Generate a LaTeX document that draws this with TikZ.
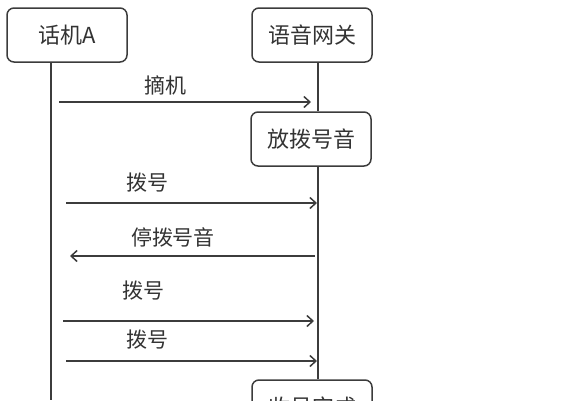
\documentclass[tikz,border=0pt]{standalone}
\usepackage{fontspec}
\setmainfont{Noto Sans CJK SC}
\usetikzlibrary{arrows.meta}
\definecolor{linegray}{HTML}{3C3C3C}
\definecolor{textgray}{HTML}{333333}

\begin{document}
\begin{tikzpicture}[x=1pt,y=-1pt,
  box/.style={draw=linegray,line width=1.5pt,rounded corners=7pt,
    minimum width=120pt,minimum height=54pt,
    font=\fontsize{22}{24}\selectfont,text=textgray},
  life/.style={draw=linegray,line width=1.2pt},
  msg/.style={draw=linegray,line width=1.6pt,
    -{Straight Barb[length=6pt,width=11pt,line width=1.5pt]}},
  lbl/.style={font=\fontsize{21}{23}\selectfont,text=textgray}]
\useasboundingbox (0,0) rectangle (574,400);

%==================== 头部 ====================
\node[box] (phone) at (67,35) {话机A};
\node[box] (gw) at (312,35) {语音网关};
\node[box] (dial) at (311,139) {放拨号音};
\node[box] (done) at (312,407) {收号完成};

%==================== 生命线 ====================
\coordinate (Ax) at (51,0);
\coordinate (Gx) at (318,0);
\coordinate (Aend) at (51,400);
\draw[life] (phone.south -| Ax) -- (Aend);
\draw[life] (gw.south -| Gx) -- (dial.north -| Gx);
\draw[life] (dial.south -| Gx) -- (done.north -| Gx);

%==================== 消息 ====================
\foreach \i/\xs/\xe/\y/\txt/\tx/\ty in {
1/59/311/102/摘机/165/85,
2/66/317/203/拨号/147/183,
3/315/70/256/停拨号音/173/237,
4/63/314/321/拨号/143/291,
5/66/317/361/拨号/147/340
}{
    \coordinate (m\i s) at (\xs,\y);
    \coordinate (m\i e) at (\xe,\y);
    \draw[msg] (m\i s) -- (m\i e);
    \node[lbl] (t\i) at (\tx,\ty) {\txt};
}

\end{tikzpicture}
\end{document}
